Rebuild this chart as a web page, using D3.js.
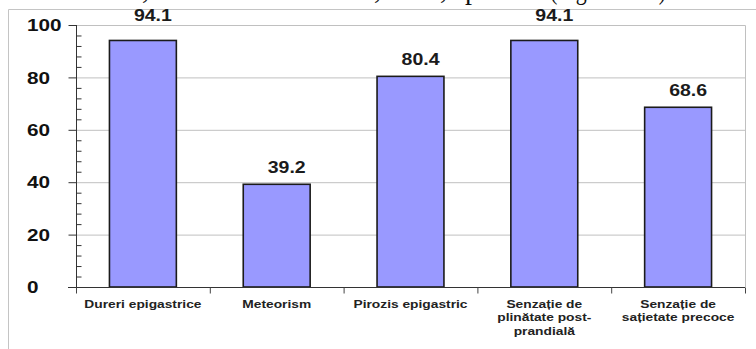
<!DOCTYPE html>
<html>
<head>
<meta charset="utf-8">
<script src="https://cdn.jsdelivr.net/npm/d3@7"></script>
<style>
  html, body { margin: 0; padding: 0; background: #fff; }
  svg { display: block; }
</style>
</head>
<body>
<svg id="chart" width="756" height="349"></svg>
<script>
// Symptom frequencies (%)
const categories = [
  "Dureri epigastrice",
  "Meteorism",
  "Pirozis epigastric",
  "Senzație de plinătate post-prandială",
  "Senzație de sațietate precoce"
];
const categoryLines = [
  ["Dureri epigastrice"],
  ["Meteorism"],
  ["Pirozis epigastric"],
  ["Senzație de", "plinătate post-", "prandială"],
  ["Senzație de", "sațietate precoce"]
];
const values = [94.1, 39.2, 80.4, 94.1, 68.6];
const majorTicks = [0, 20, 40, 60, 80, 100];
const minorTicks = [4, 8, 12, 16, 24, 28, 32, 36, 44, 48, 52, 56, 64, 68, 72, 76, 84, 88, 92, 96];

// Tail of the running text above the figure (only its lowest strokes show)
const captionPieces = [
  { text: "la 48 de bolnavi,", end: 149 },
  { text: "meteorism la 20,", end: 381 },
  { text: "80%,", end: 447 },
  { start: 465, text: "pirozis" },
  { start: 550, text: "(Figura 3.14)", len: 116 }
];

const svg = d3.select("#chart");
const W = 756, H = 349;
const plot = { left: 76, right: 745, top: 25, bottom: 287 };
const stretch = 1.22;     // text is drawn slightly wide
const ink = "#1b1b1b";

const x = d3.scaleBand()
  .domain(categories)
  .range([plot.left, plot.right])
  .paddingInner(0.5)
  .paddingOuter(0.25);

const y = d3.scaleLinear()
  .domain([0, 100])
  .range([plot.bottom, plot.top]);

// Running text above the chart frame, mostly outside the page
const cap = svg.append("g")
  .attr("font-family", "'Liberation Serif', 'Times New Roman', serif")
  .attr("font-size", 28)
  .attr("fill", "#111");
captionPieces.forEach(p => {
  const t = cap.append("text").attr("y", -1).text(p.text);
  if (p.end !== undefined) t.attr("x", p.end).attr("text-anchor", "end");
  else t.attr("x", p.start);
  if (p.len) t.attr("textLength", p.len).attr("lengthAdjust", "spacingAndGlyphs");
});

// Chart area frame (top and left edges visible)
svg.append("path")
  .attr("d", `M8.5,${H} V9.5 H${W}`)
  .attr("fill", "none")
  .attr("stroke", "#c4c4c4")
  .attr("stroke-width", 1);

// Horizontal gridlines
const grid = svg.append("g")
  .attr("transform", `translate(${plot.left},0)`)
  .call(d3.axisLeft(y).tickValues(majorTicks.slice(1, -1))
    .tickSize(-(plot.right - plot.left)).tickFormat(""));
grid.select(".domain").remove();
grid.selectAll("line").attr("stroke", "#c0c0c0").attr("stroke-width", 1);

// Plot area border (top and right)
svg.append("path")
  .attr("d", `M${plot.left},${plot.top + 0.5} H${plot.right + 0.5} V${plot.bottom}`)
  .attr("fill", "none")
  .attr("stroke", "#c0c0c0")
  .attr("stroke-width", 1);

// Bars
svg.append("g")
  .selectAll("rect")
  .data(values)
  .join("rect")
  .attr("x", (d, i) => x(categories[i]))
  .attr("y", d => y(d))
  .attr("width", x.bandwidth())
  .attr("height", d => y(0) - y(d))
  .attr("fill", "#9999ff")
  .attr("stroke", ink)
  .attr("stroke-width", 1.6);

// Value labels above the bars; labels that would cross the top border sit above it
const labelFont = 16, labelCap = labelFont * 0.716;
svg.append("g")
  .selectAll("text")
  .data(values)
  .join("text")
  .attr("transform", (d, i) => {
    const cx = x(categories[i]) + x.bandwidth() / 2 + 10;
    let by = y(d) - 11;
    if (by - labelCap < plot.top) by = plot.top - 4;
    return `translate(${cx},${by}) scale(${stretch},1)`;
  })
  .attr("text-anchor", "middle")
  .attr("font-family", "'Liberation Sans', Arial, sans-serif")
  .attr("font-weight", "bold")
  .attr("font-size", labelFont)
  .attr("fill", ink)
  .text(d => d.toFixed(1));

// Y axis: major ticks outward, minor ticks inward
const yAxis = svg.append("g")
  .attr("transform", `translate(${plot.left + 0.5},0)`)
  .call(d3.axisLeft(y).tickValues(majorTicks).tickSize(8).tickSizeOuter(0).tickFormat(""));
yAxis.select(".domain").attr("stroke", "#333").attr("d", `M0,${plot.top}V${plot.bottom + 6}`);
yAxis.selectAll("line").attr("stroke", "#333");

const yMinor = svg.append("g")
  .attr("transform", `translate(${plot.left + 0.5},0)`)
  .call(d3.axisRight(y).tickValues(minorTicks).tickSize(5).tickFormat(""));
yMinor.select(".domain").remove();
yMinor.selectAll("line").attr("stroke", "#333");

// Y tick labels (left aligned)
svg.append("g")
  .selectAll("text")
  .data(majorTicks)
  .join("text")
  .attr("transform", d => `translate(27,${y(d)}) scale(${stretch},1)`)
  .attr("dy", "0.36em")
  .attr("font-family", "'Liberation Sans', Arial, sans-serif")
  .attr("font-weight", "bold")
  .attr("font-size", 17)
  .attr("fill", "#111")
  .text(d => d);

// X axis line with ticks at the category boundaries
const edges = d3.range(categories.length + 1).map(i => plot.left + i * x.step());
const xAxis = svg.append("g").attr("transform", `translate(0,${plot.bottom + 0.5})`);
xAxis.append("line")
  .attr("x1", plot.left - 8).attr("x2", plot.right)
  .attr("stroke", "#333");
xAxis.selectAll("line.tick")
  .data(edges)
  .join("line")
  .attr("class", "tick")
  .attr("x1", d => d + 0.5).attr("x2", d => d + 0.5)
  .attr("y1", 0).attr("y2", 6)
  .attr("stroke", "#444");

// Category labels
const catG = svg.append("g")
  .attr("font-family", "'Liberation Sans', Arial, sans-serif")
  .attr("font-weight", "bold")
  .attr("font-size", 11.3)
  .attr("fill", "#222")
  .attr("text-anchor", "middle");
categoryLines.forEach((lines, i) => {
  const cx = x(categories[i]) + x.bandwidth() / 2;
  lines.forEach((ln, j) => {
    catG.append("text")
      .attr("transform", `translate(${cx},${308 + j * 13.3}) scale(${stretch},1)`)
      .text(ln);
  });
});
</script>
</body>
</html>
